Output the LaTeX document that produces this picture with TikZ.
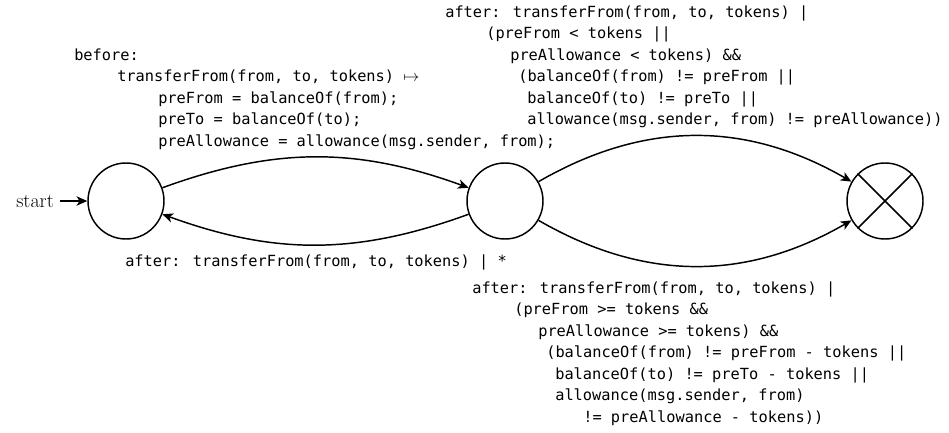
\documentclass[tikz,border=0pt]{standalone}
\usepackage{fontspec}
\newfontfamily\codefont{DejaVu Sans Mono}
\usetikzlibrary{arrows.meta}
\begin{document}
\begin{tikzpicture}[x=0.75pt, y=0.75pt,
  statecircle/.style={circle, draw, line width=1.1pt, minimum size=57pt, inner sep=0pt},
  codeblock/.style={anchor=north west, inner sep=0pt, align=left,
    font=\codefont\fontsize{11.5pt}{16.125pt}\selectfont},
  transition/.style={-{Stealth[length=8pt, width=7pt, inset=2.2pt]}, line width=1.1pt},
]
\useasboundingbox (0,0) rectangle (949,-432);

% states
\node[statecircle] (s1) at (126,-201) {};
\node[statecircle] (s2) at (505,-201) {};
\node[statecircle] (s3) at (885,-201) {};
\draw[line width=1.1pt] (s3.north west) -- (s3.south east)
                        (s3.north east) -- (s3.south west);

% initial marker
\node[anchor=east, inner sep=4pt, font=\fontsize{15pt}{18pt}\selectfont] (startlabel) at (59.5,-201) {start};
\draw[transition] (startlabel) -- (s1);

% transitions
\draw[transition] (s1) to[bend left=20] (s2);
\draw[transition] (s2) to[bend left=20] (s1);
\draw[transition] (s2) to[bend left=30] (s3);
\draw[transition] (s2) to[bend right=30] (s3);

% labels
\node[codeblock] (pre) at (74,-48.5) {before:\\
\hspace*{32.25pt}transferFrom(from, to, tokens) $\mapsto$\\
\hspace*{63pt}preFrom = balanceOf(from);\\
\hspace*{63pt}preTo = balanceOf(to);\\
\hspace*{63pt}preAllowance = allowance(msg.sender, from);};

\node[codeblock] (revert) at (445,-5.5) {after: transferFrom(from, to, tokens) |\\
\hspace*{30.75pt}(preFrom < tokens ||\\
\hspace*{48.75pt}preAllowance < tokens) \&\&\\
\hspace*{54.75pt}(balanceOf(from) != preFrom ||\\
\hspace*{61.5pt}balanceOf(to) != preTo ||\\
\hspace*{61.5pt}allowance(msg.sender, from) != preAllowance))};

\node[codeblock] (back) at (125,-254.5) {after: transferFrom(from, to, tokens) | *};

\node[codeblock] (success) at (472,-281.5) {after: transferFrom(from, to, tokens) |\\
\hspace*{31.5pt}(preFrom >= tokens \&\&\\
\hspace*{49.5pt}preAllowance >= tokens) \&\&\\
\hspace*{55.5pt}(balanceOf(from) != preFrom - tokens ||\\
\hspace*{62.25pt}balanceOf(to) != preTo - tokens ||\\
\hspace*{62.25pt}allowance(msg.sender, from)\\
\hspace*{83.25pt}!= preAllowance - tokens))};
\end{tikzpicture}
\end{document}
